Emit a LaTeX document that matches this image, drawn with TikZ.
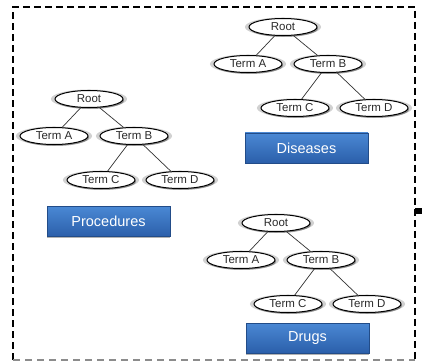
\documentclass[tikz,border=0pt]{standalone}
\usepackage{fontspec}
\setmainfont{Liberation Sans}
\usetikzlibrary{shapes.geometric,shadows}
\definecolor{boxtop}{HTML}{4A88D4}
\definecolor{boxbot}{HTML}{2B5FAA}
\definecolor{termtxt}{HTML}{2A2A2A}
\tikzset{
  term/.style={ellipse,draw=black,line width=1pt,fill=white,minimum width=68pt,minimum height=17pt,inner sep=0pt,
    font=\fontsize{11.5}{11.5}\selectfont,text=termtxt,
    general shadow={shadow scale=1.12,opacity=0.18,fill=black},
    drop shadow={shadow xshift=1pt,shadow yshift=-1.5pt,opacity=0.35,fill=black}},
  edge/.style={draw=black!80,line width=0.7pt},
  catbox/.style={rectangle,minimum width=123pt,minimum height=30pt,inner sep=0pt,top color=boxtop,bottom color=boxbot,
    draw=boxbot!80!black,line width=0.4pt,text=white,font=\fontsize{14.5}{15}\selectfont,
    drop shadow={shadow xshift=0pt,shadow yshift=-1.5pt,opacity=0.3,fill=black}},
  blackdash/.style={draw=black,line width=1.6pt,dash pattern=on 7pt off 4pt},
  graydash/.style={draw=black!45,line width=1.2pt,dash pattern=on 7pt off 5pt}
}
\newcommand\ontotree[3]{%
  \node[term] (#1r) at (#2,#3) {Root};
  \node[term] (#1a) at ([shift={(-35,37)}]#1r.center) {Term A};
  \node[term] (#1b) at ([shift={(45,37)}]#1r.center) {Term B};
  \node[term] (#1c) at ([shift={(12,81)}]#1r.center) {Term C};
  \node[term] (#1d) at ([shift={(91,81)}]#1r.center) {Term D};
  \draw[edge] (#1r) -- (#1a);
  \draw[edge] (#1r) -- (#1b);
  \draw[edge] (#1b) -- (#1c);
  \draw[edge] (#1b) -- (#1d);
}
\begin{document}
\begin{tikzpicture}[x=1pt,y=-1pt]
\useasboundingbox (0,0) rectangle (424,361);
\fill[white] (0,0) rectangle (424,361);
% border
\coordinate (tl) at (13,7);
\coordinate (tr) at (415,7);
\coordinate (br) at (415,360);
\coordinate (bl) at (13,360);
\draw[blackdash] (bl) -- (tl) -- (tr) -- (br);
\draw[graydash] (bl) -- (br);
\fill[black] (415,208) rectangle (422,214);
% trees
\ontotree{d}{283}{27}
\ontotree{p}{89}{99}
\ontotree{g}{276}{223}
% category boxes
\node[catbox] (diseases) at (306.5,148) {Diseases};
\node[catbox] (procedures) at (108.5,221.5) {Procedures};
\node[catbox] (drugs) at (307.5,338) {Drugs};
\end{tikzpicture}
\end{document}
